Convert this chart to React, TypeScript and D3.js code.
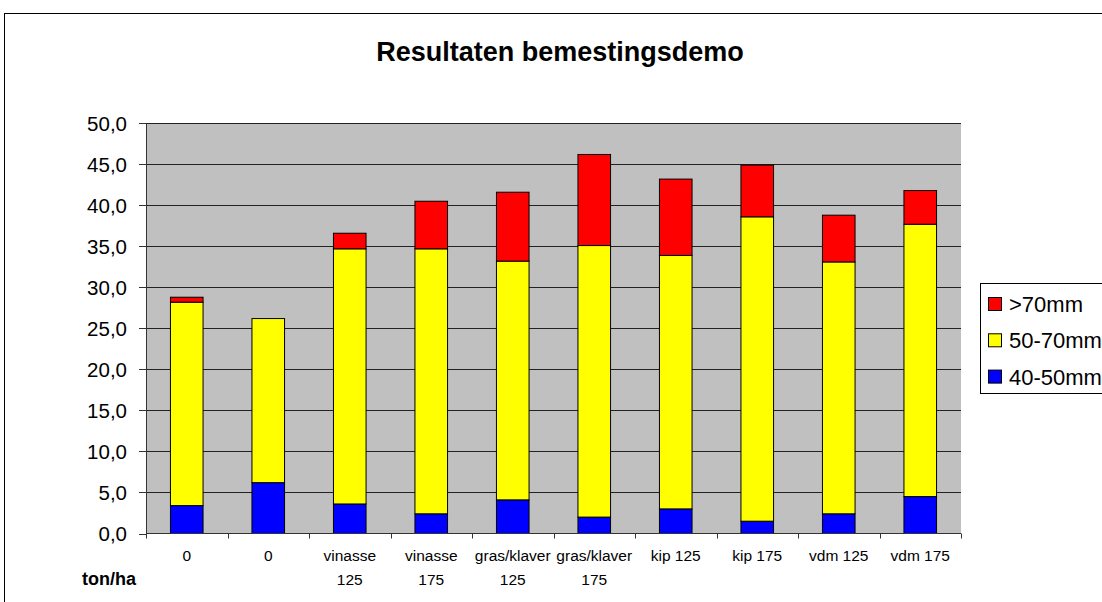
import React from "react";
import * as d3 from "d3";

const categories = ["0a", "0b", "vinasse 125", "vinasse 175", "gras/klaver 125", "gras/klaver 175", "kip 125", "kip 175", "vdm 125", "vdm 175"];
const categoryLabels = [["0"], ["0"], ["vinasse", "125"], ["vinasse", "175"], ["gras/klaver", "125"], ["gras/klaver", "175"], ["kip 125"], ["kip 175"], ["vdm 125"], ["vdm 175"]];
const s4050 = [3.4, 6.2, 3.6, 2.4, 4.1, 2.0, 3.0, 1.5, 2.4, 4.5];
const s5070 = [24.8, 20.0, 31.1, 32.3, 29.1, 33.1, 30.9, 37.1, 30.7, 33.2];
const s70 = [0.6, 0.0, 1.9, 5.8, 8.4, 11.1, 9.3, 6.3, 5.7, 4.1];
const seriesNames = ["40-50mm", "50-70mm", ">70mm"];
const seriesColors = ["#0000FF", "#FFFF00", "#FF0000"];
const yTicks = [0, 5, 10, 15, 20, 25, 30, 35, 40, 45, 50];

const FONT = "'Liberation Sans', Arial, sans-serif";

export default function App() {
  const left = 146, right = 961, top = 123.3, bottom = 533.5;
  const x = d3.scaleBand().domain(categories).range([left, right]).paddingInner(0.6).paddingOuter(0.3);
  const y = d3.scaleLinear().domain([0, 50]).range([bottom, top]);
  const rows = categories.map((c, i) => ({ cat: c, a: s4050[i], b: s5070[i], c2: s70[i] }));
  const stack = d3.stack<any>().keys(["a", "b", "c2"])(rows);
  const fmt = (v: number) => v.toFixed(1).replace(".", ",");
  const step = x.step();
  const boundaries = d3.range(categories.length + 1).map((i) => left + i * step);

  return (
    <svg width={1102} height={602} style={{ position: "absolute", left: 0, top: 0, background: "#fff" }} fontFamily={FONT}>
      <rect x={4.5} y={13.5} width={1200} height={700} fill="#fff" stroke="#000" strokeWidth={1} />
      <text x={560} y={61} textAnchor="middle" fontSize={27} fontWeight="bold" fill="#000">Resultaten bemestingsdemo</text>
      <rect x={left} y={top} width={right - left} height={bottom - top} fill="#C0C0C0" />
      {yTicks.filter((t) => t > 0).map((t) => (
        <line key={"g" + t} x1={left} x2={right} y1={Math.round(y(t)) + 0.5} y2={Math.round(y(t)) + 0.5} stroke="#222" strokeWidth={1} />
      ))}
      {stack.map((layer, si) => (
        <g key={si}>
          {layer.map((d, i) => (d[1] - d[0] > 0 ? (
            <rect key={i} x={x(categories[i])!} y={y(d[1])} width={x.bandwidth()} height={y(d[0]) - y(d[1])} fill={seriesColors[si]} stroke="#000" strokeWidth={1} />
          ) : null))}
        </g>
      ))}
      <line x1={left + 0.5} x2={left + 0.5} y1={top} y2={bottom} stroke="#333" strokeWidth={1} />
      <line x1={left} x2={right} y1={bottom} y2={bottom} stroke="#333" strokeWidth={1} />
      {yTicks.map((t) => (
        <g key={"t" + t}>
          <line x1={left - 7} x2={left} y1={Math.round(y(t)) + 0.5} y2={Math.round(y(t)) + 0.5} stroke="#333" />
          <text x={127} y={y(t) + 7.5} textAnchor="end" fontSize={20.5} fill="#000">{fmt(t)}</text>
        </g>
      ))}
      {boundaries.map((bx, i) => (
        <line key={"xb" + i} x1={Math.round(bx) + 0.5} x2={Math.round(bx) + 0.5} y1={bottom} y2={bottom + 5} stroke="#333" />
      ))}
      {categories.map((c, i) => (
        <text key={"xl" + i} textAnchor="middle" fontSize={15.5} fill="#000">
          {categoryLabels[i].map((ln, j) => (
            <tspan key={j} x={x(c)! + x.bandwidth() / 2} y={561 + j * 24}>{ln}</tspan>
          ))}
        </text>
      ))}
      <text x={82} y={585} fontSize={18} fontWeight="bold" fill="#000">ton/ha</text>
      <rect x={980.5} y={283.5} width={200} height={110} fill="#fff" stroke="#000" strokeWidth={1} />
      {[2, 1, 0].map((si, k) => (
        <g key={"lg" + si}>
          <rect x={988.5} y={297.5 + k * 36.3} width={13} height={13} fill={seriesColors[si]} stroke="#000" />
          <text x={1009} y={312 + k * 36.3} fontSize={22} fill="#000">{seriesNames[si]}</text>
        </g>
      ))}
    </svg>
  );
}
